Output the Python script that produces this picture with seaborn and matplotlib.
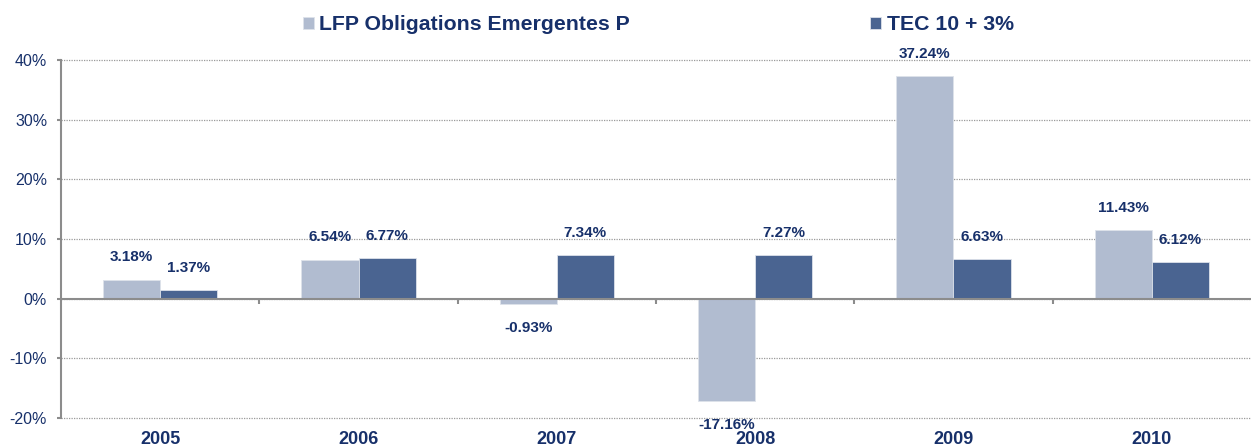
"""
Annual performance: LFP Obligations Emergentes P vs TEC 10 + 3%
"""

import matplotlib
matplotlib.use("Agg")
import matplotlib.pyplot as plt
import numpy as np
import pandas as pd
import seaborn as sns
from matplotlib.ticker import FuncFormatter, MultipleLocator

# Data
years = ["2005", "2006", "2007", "2008", "2009", "2010"]
fund_name = "LFP Obligations Emergentes P"
bench_name = "TEC 10 + 3%"
fund_perf = [3.18, 6.54, -0.93, -17.16, 37.24, 11.43]
bench_perf = [1.37, 6.77, 7.34, 7.27, 6.63, 6.12]

NAVY = "#17306A"
LIGHT = "#B1BCD0"
DARK = "#4A6491"
GREY = "#8C8C8C"

df = pd.DataFrame({
    "year": years * 2,
    "perf": fund_perf + bench_perf,
    "series": [fund_name] * len(years) + [bench_name] * len(years),
})

sns.set_theme(style="white")
plt.rcParams["font.family"] = ["Liberation Sans", "DejaVu Sans"]

fig = plt.figure(figsize=(12.52, 4.48), dpi=100)
ax = fig.add_axes([61 / 1252, 1 - 418 / 448, (1251 - 61) / 1252, (418 - 60) / 448])

sns.barplot(
    data=df, x="year", y="perf", hue="series",
    palette={fund_name: LIGHT, bench_name: DARK},
    width=0.575, saturation=1, linewidth=0.6, edgecolor="#DDE2EA",
    ax=ax, legend=True,
)

# Value labels
for container in ax.containers:
    for bar in container:
        h = bar.get_height()
        x = bar.get_x() + bar.get_width() / 2
        off = 16 if h >= 0 else -17
        ax.annotate(f"{h:.2f}%", (x, h), xytext=(0, off), textcoords="offset points",
                    ha="center", va="center", fontsize=11, fontweight="bold",
                    color=NAVY, annotation_clip=False)

# Axes styling
ax.set_ylim(-20, 40)
ax.set_xlim(-0.5, len(years) - 0.5)
ax.yaxis.set_major_locator(MultipleLocator(10))
ax.yaxis.set_major_formatter(FuncFormatter(lambda v, _: f"{v:.0f}%"))
ax.set_xlabel("")
ax.set_ylabel("")

ax.grid(axis="y", color="#9A9A9A", linestyle=(0, (1, 1)), linewidth=0.9)
ax.grid(axis="x", visible=False)
for line in ax.get_ygridlines():
    line.set_clip_on(False)
ax.set_axisbelow(True)
ax.axhline(0, color=GREY, linewidth=1.5, zorder=3)
ax.vlines(np.arange(0.5, len(years) - 0.5), 0, -0.85, color=GREY, linewidth=1.5, zorder=3)

for side in ["top", "right", "bottom"]:
    ax.spines[side].set_visible(False)
ax.spines["left"].set_color(GREY)
ax.spines["left"].set_linewidth(1.5)

ax.tick_params(axis="y", left=True, length=3, width=1.5, color=GREY, pad=7,
               labelsize=11.5, labelcolor=NAVY)
ax.tick_params(axis="x", bottom=False, length=0, pad=9, labelsize=13, labelcolor=NAVY)
for lbl in ax.get_xticklabels():
    lbl.set_fontweight("bold")

# Legend on top
handles, labels = ax.get_legend_handles_labels()
ax.get_legend().remove()
fig.legend(handles, labels, loc="center left", bbox_to_anchor=(303 / 1252, 1 - 25 / 448),
           ncol=2, frameon=False, borderpad=0, borderaxespad=0,
           handlelength=0.52, handleheight=0.52, handletextpad=0.25, columnspacing=11.3,
           prop={"size": 15.3, "weight": "bold"}, labelcolor=NAVY)

plt.savefig("out.png", dpi=100)
plt.close()
